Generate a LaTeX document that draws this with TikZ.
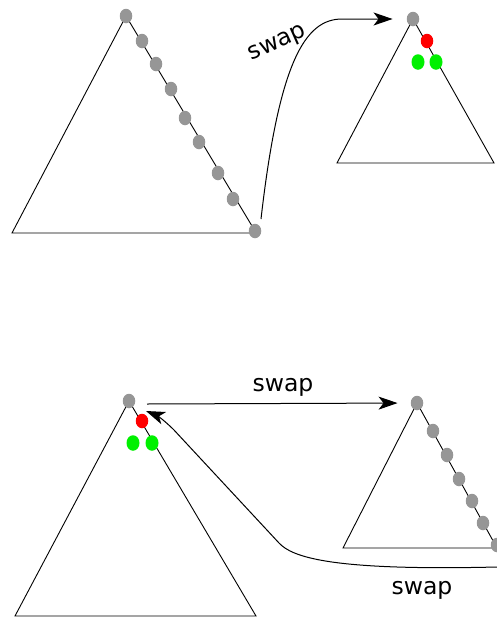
\documentclass[tikz,border=0pt]{standalone}
\usepackage{fontspec}
\setmainfont{DejaVu Sans}
\usetikzlibrary{arrows.meta,shapes.geometric}
\tikzset{
  dot/.style={ellipse, inner sep=0pt, minimum width=12.5pt, minimum height=14.5pt, fill=#1, draw=none},
  gdot/.style={dot=dotgray},
  rdot/.style={dot=red},
  grdot/.style={dot=dotgreen, minimum width=13pt, minimum height=15.5pt},
  tri/.style={draw=black, line width=0.9pt},
  conn/.style={draw=black, line width=1pt, -{Stealth[length=19pt, width=13pt, inset=5pt]}},
  lbl/.style={font=\fontsize{23.5}{28}\selectfont, inner sep=0pt}
}
\definecolor{dotgray}{RGB}{150,150,150}
\definecolor{dotgreen}{RGB}{0,240,0}
\begin{document}
\begin{tikzpicture}[x=1pt,y=-1pt]
\useasboundingbox (0,0) rectangle (497,619);
% ---------- top-left triangle ----------
\draw[tri] (126,16) -- (12,233) -- (255,233) -- (255,231) -- cycle;
\node[gdot] (a0) at (126,16) {};
\node[gdot] (a1) at (142,41) {};
\node[gdot] (a2) at (156,64) {};
\node[gdot] (a3) at (171,89) {};
\node[gdot] (a4) at (185,118) {};
\node[gdot] (a5) at (199,142) {};
\node[gdot] (a6) at (218,173) {};
\node[gdot] (a7) at (233,199) {};
\node[gdot] (a8) at (255,231) {};
% ---------- top-right triangle ----------
\draw[tri] (413,19) -- (337,163) -- (494,163) -- cycle;
\node[gdot] (b0) at (413,19) {};
\node[rdot] (b1) at (427,41) {};
\node[grdot] (b2) at (418,62) {};
\node[grdot] (b3) at (436,62) {};
% top curve
\coordinate (s1) at (261,219);
\coordinate (t1) at (342,19);
\draw[conn, shorten >=14pt] (s1)
  .. controls (279,62) and (305,19) .. (t1) -- (b0.west);
\node[lbl, rotate=24] (sw1) at (278,44) {swap};
% ---------- bottom-left triangle ----------
\draw[tri] (129,401) -- (15,616) -- (256,616) -- cycle;
\node[gdot] (c0) at (129,401) {};
\node[rdot] (c1) at (142,421) {};
\node[grdot] (c2) at (133,443) {};
\node[grdot] (c3) at (152,443) {};
% ---------- bottom-right triangle ----------
\draw[tri] (417,403) -- (343,548) -- (497,548);
\draw[tri] (417,403) -- (497,548);
\node[gdot] (d0) at (417,403) {};
\node[gdot] (d1) at (433,431) {};
\node[gdot] (d2) at (447,455) {};
\node[gdot] (d3) at (459,479) {};
\node[gdot] (d4) at (472,501) {};
\node[gdot] (d5) at (483,523) {};
\node[gdot] (d6) at (497,545) {};
% upper bottom arrow
\coordinate (u0) at (147,404);
\draw[conn, shorten >=13pt] (u0) -- (d0.west);
\node[lbl] (sw2) at (283,387) {swap};
% lower curve
\coordinate (r0) at (497,567);
\coordinate (k0) at (279,543);
\draw[conn] (r0) .. controls (330,571) and (292,557) .. (k0) -- (174,430) .. controls (163,419) and (156,415) .. (146,411);
\node[lbl] (sw3) at (422,590) {swap};
\end{tikzpicture}
\end{document}
